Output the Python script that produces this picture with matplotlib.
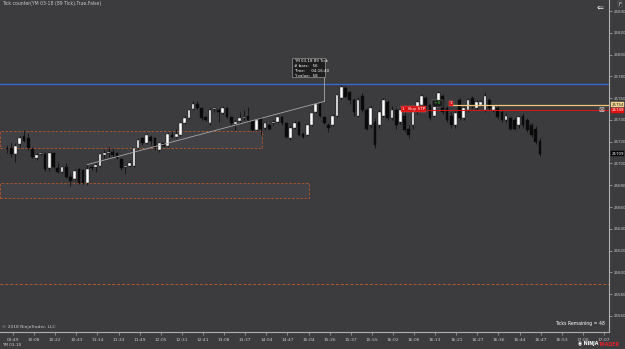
import matplotlib
matplotlib.use("Agg")
import matplotlib.pyplot as plt
from matplotlib.patches import Rectangle
import numpy as np

# ---------------- data ----------------
opens = [25714, 25714, 25709, 25718, 25725, 25723, 25713, 25705, 25709, 25709,
         25696, 25710, 25696, 25692, 25697, 25688, 25686, 25695, 25694, 25682,
         25697, 25697, 25698, 25708, 25710, 25711, 25710, 25704, 25697, 25698,
         25698, 25714, 25723, 25719, 25724, 25723, 25712, 25719, 25716, 25726,
         25724, 25726, 25737, 25742, 25750, 25755, 25751, 25743, 25737, 25750,
         25749, 25746, 25751, 25743, 25736, 25739, 25742, 25744, 25739, 25731,
         25742, 25733, 25735, 25737, 25738, 25743, 25737, 25723, 25733, 25738,
         25727, 25726, 25735, 25747, 25755, 25743, 25735, 25735, 25744, 25760,
         25769, 25766, 25758, 25744, 25762, 25749, 25735, 25738, 25735, 25744,
         25756, 25742, 25749, 25738, 25744, 25732, 25735, 25747, 25754, 25760,
         25754, 25744, 25754, 25762, 25751, 25744, 25735, 25758, 25742, 25749,
         25760, 25751, 25754, 25749, 25758, 25749, 25751, 25747, 25740, 25742,
         25740, 25735, 25744, 25740, 25735, 25732, 25721]
closes = [25713, 25709, 25716, 25723, 25721, 25714, 25706, 25708, 25710, 25695,
          25710, 25697, 25692, 25697, 25688, 25684, 25693, 25682, 25682, 25695,
          25696, 25699, 25709, 25710, 25711, 25708, 25705, 25696, 25697, 25700,
          25714, 25722, 25719, 25726, 25721, 25714, 25719, 25716, 25727, 25724,
          25727, 25737, 25742, 25749, 25755, 25751, 25742, 25740, 25749, 25750,
          25747, 25751, 25743, 25737, 25738, 25742, 25743, 25740, 25731, 25740,
          25732, 25737, 25732, 25738, 25743, 25737, 25724, 25733, 25737, 25726,
          25724, 25735, 25746, 25755, 25744, 25737, 25733, 25744, 25763, 25770,
          25761, 25758, 25747, 25758, 25749, 25732, 25751, 25717, 25747, 25758,
          25742, 25749, 25735, 25749, 25731, 25726, 25747, 25756, 25762, 25753,
          25742, 25756, 25765, 25747, 25740, 25735, 25746, 25742, 25751, 25758,
          25753, 25756, 25756, 25762, 25751, 25753, 25743, 25740, 25744, 25732,
          25732, 25743, 25735, 25731, 25726, 25720, 25709]
highs = [25717, 25720, 25719, 25725, 25731, 25728, 25715, 25710, 25711, 25711,
         25711, 25711, 25701, 25698, 25700, 25691, 25695, 25696, 25695, 25699,
         25698, 25700, 25710, 25712, 25715, 25714, 25711, 25705, 25698, 25703,
         25715, 25723, 25724, 25728, 25726, 25724, 25720, 25720, 25729, 25730,
         25732, 25738, 25744, 25750, 25757, 25757, 25752, 25744, 25751, 25752,
         25751, 25753, 25752, 25744, 25740, 25747, 25749, 25752, 25740, 25741,
         25743, 25738, 25736, 25740, 25744, 25744, 25738, 25735, 25739, 25739,
         25729, 25736, 25747, 25756, 25756, 25744, 25737, 25745, 25764, 25772,
         25771, 25767, 25760, 25761, 25765, 25751, 25754, 25742, 25749, 25760,
         25758, 25753, 25751, 25751, 25747, 25735, 25749, 25758, 25764, 25762,
         25755, 25758, 25767, 25764, 25753, 25747, 25748, 25760, 25753, 25760,
         25762, 25758, 25758, 25766, 25760, 25754, 25753, 25749, 25746, 25743,
         25742, 25744, 25746, 25742, 25737, 25734, 25723]
lows = [25710, 25706, 25701, 25715, 25720, 25712, 25705, 25703, 25708, 25693,
        25693, 25696, 25691, 25691, 25687, 25679, 25685, 25681, 25681, 25680,
        25694, 25692, 25697, 25705, 25706, 25706, 25704, 25694, 25690, 25697,
        25697, 25713, 25717, 25718, 25717, 25712, 25711, 25715, 25715, 25723,
        25723, 25725, 25736, 25741, 25749, 25750, 25740, 25739, 25735, 25747,
        25738, 25745, 25742, 25735, 25731, 25737, 25740, 25738, 25730, 25730,
        25726, 25731, 25731, 25735, 25737, 25735, 25723, 25722, 25732, 25725,
        25723, 25725, 25734, 25746, 25743, 25736, 25729, 25734, 25743, 25759,
        25760, 25755, 25744, 25743, 25747, 25731, 25733, 25714, 25733, 25743,
        25740, 25740, 25732, 25736, 25729, 25723, 25732, 25745, 25753, 25749,
        25740, 25743, 25753, 25745, 25738, 25733, 25733, 25740, 25740, 25747,
        25751, 25749, 25753, 25747, 25749, 25747, 25741, 25738, 25738, 25731,
        25731, 25733, 25733, 25729, 25724, 25718, 25707]

price_ticks = [25560, 25580, 25600, 25620, 25640, 25660, 25680, 25700, 25720,
               25740, 25760, 25780, 25800, 25820, 25840]
time_labels = ["09:49", "10:08", "10:22", "10:43", "11:14", "11:33", "11:49", "12:05",
               "12:31", "12:41", "13:08", "13:37", "14:04", "14:47", "15:04", "15:26",
               "15:37", "15:55", "16:02", "16:06", "16:13", "16:21", "16:27", "16:36",
               "16:44", "16:47", "16:53", "17:00", "17:07"]

blue_level = 25773
orange_level = 25589
stop_level = 25749
target_level = 25754
last_price = 25709
zone1 = (25714.5, 25730)   # low, high
zone2 = (25668, 25682)
ruler_start = (19, 25699)
ruler_end = (75, 25757)

# ---------------- style ----------------
bg = "#3c3c3f"
txt = "#c8c8c8"
W, H = 625, 349

fig = plt.figure(figsize=(W / 100, H / 100), dpi=100)
fig.patch.set_facecolor(bg)
ax = fig.add_axes([0, 17 / H, 609 / W, 332 / H])
ax.set_facecolor(bg)

bar_px = 4.23
x0 = -7 / bar_px
ax.set_xlim(x0, x0 + 609 / bar_px)
ax.set_ylim(25545.3, 25850.1)

for s in ["top", "left"]:
    ax.spines[s].set_visible(False)
for s in ["right", "bottom"]:
    ax.spines[s].set_color("#b0b0b0")
    ax.spines[s].set_linewidth(0.8)

ax.yaxis.tick_right()
ax.set_yticks(price_ticks)
ax.set_yticklabels([str(p) for p in price_ticks])
ax.tick_params(axis="y", length=2, width=0.5, colors="#b0b0b0", labelsize=2.9,
               labelcolor=txt, pad=1.2)
tick_pos = 1.42 + 4.99 * np.arange(len(time_labels))
ax.set_xticks(tick_pos)
ax.set_xticklabels(time_labels)
ax.tick_params(axis="x", length=2, width=0.5, colors="#b0b0b0", labelsize=3.2,
               labelcolor=txt, pad=2)

# zones
for (lo, hi), right in [(zone1, 60.3), (zone2, 71.4)]:
    ax.add_patch(Rectangle((x0, lo), right - x0, hi - lo, facecolor="#424246",
                           edgecolor="#b8582a", lw=0.6, ls=(0, (3, 2)), zorder=1))

ax.axhline(blue_level, color="#3a6ad6", lw=0.9, zorder=2)
ax.axhline(orange_level, color="#b8582a", lw=0.7, ls=(0, (3, 2)), zorder=2)

# candles
n = len(opens)
idx = np.arange(n)
o = np.array(opens, float)
c = np.array(closes, float)
h = np.array(highs, float)
l = np.array(lows, float)
ax.vlines(idx, l, h, color="#101010", lw=0.6, zorder=3)
up = c >= o
body_lo = np.minimum(o, c)
body_h = np.maximum(np.abs(c - o), 0.7)
ax.bar(idx[up], body_h[up], bottom=body_lo[up], width=0.64, color="white",
       edgecolor="#101010", lw=0.3, zorder=4)
ax.bar(idx[~up], body_h[~up], bottom=body_lo[~up], width=0.64, color="#0a0a0a",
       edgecolor="#0a0a0a", lw=0.3, zorder=4)

# ruler
ax.plot([ruler_start[0], ruler_end[0]], [ruler_start[1], ruler_end[1]],
        color="#a8a8a8", lw=0.6, zorder=5)
ax.plot([ruler_end[0], ruler_end[0]], [ruler_end[1], 25779.5], color="#a8a8a8",
        lw=0.6, zorder=5)
ax.add_patch(Rectangle((67.4, 25779.5), ruler_end[0] + 0.2 - 67.4, 17.3,
                       facecolor="#1e1e1e", edgecolor="#b0b0b0", lw=0.4, zorder=6))
ax.text(67.9, 25795.5, "YM 03-18 89 Tick\n# bars:   56\nTime:     04:16:40\nY value:  58",
        fontsize=2.9, color="white", va="top", ha="left", zorder=7, linespacing=1.25)

# orders
ax.plot([99.3, ax.get_xlim()[1]], [stop_level, stop_level], color="#e01010", lw=0.7, zorder=5)
ax.plot([105.4, ax.get_xlim()[1]], [target_level, target_level], color="#f0c878",
        lw=0.9, zorder=5)
ax.text(96.1, stop_level + 0.7, "1   Buy STP", fontsize=3, color="white", ha="center",
        va="center", zorder=7,
        bbox=dict(boxstyle="square,pad=0.25", facecolor="#d81010", edgecolor="#ff6060", lw=0.3))
ax.text(101.8, target_level + 1.2, " +0 ", fontsize=3, color="#40e040", ha="center",
        va="center", zorder=7,
        bbox=dict(boxstyle="square,pad=0.3", facecolor="#1a1a1a", edgecolor="#909090", lw=0.3))
ax.text(105.0, target_level + 1.2, "1", fontsize=3, color="white", ha="center",
        va="center", zorder=7,
        bbox=dict(boxstyle="square,pad=0.2", facecolor="#d81010", edgecolor="#ff6060", lw=0.3))

# right axis markers
def marker(price, label, fc, tc):
    ax.annotate(label, xy=(1.0, price), xycoords=("axes fraction", "data"),
                xytext=(1.6, 0), textcoords="offset points", fontsize=2.9, color=tc,
                va="center", ha="left", annotation_clip=False, zorder=8,
                bbox=dict(boxstyle="square,pad=0.12", facecolor=fc, edgecolor=fc, lw=0.3))

marker(target_level, str(target_level), "#f3d592", "#202020")
marker(stop_level, str(stop_level), "#e01010", "white")
marker(last_price, str(last_price), "#050505", "white")

def ftext(x, y, s, **kw):
    fig.text(x / W, 1 - y / H, s, **kw)

ftext(601, 110, "\u22a0", fontsize=5, color="#d0d0d0", ha="center", va="center")
ftext(2, 4, "Tick counter(YM 03-18 (89 Tick),True,False)", fontsize=3.3, color=txt,
      va="center")
ftext(600, 7, "\u21d0", fontsize=6, color="white", ha="center", va="center")
ftext(620, 4, "F", fontsize=3.5, color="white", ha="center", va="center",
      bbox=dict(boxstyle="square,pad=0.2", facecolor="#2a2a2a", edgecolor="#888888", lw=0.3))
ftext(2, 327, "\u00a9 2018 NinjaTrader, LLC", fontsize=3.2, color=txt, va="center")
ftext(605, 324, "Ticks Remaining = 48", fontsize=3.3, color="white", ha="right",
      va="center")
ftext(2, 345, "YM 03-18", fontsize=3, color=txt, va="center")
ftext(598, 344, "\u25c9 NINJA", fontsize=3.4, color="white", ha="right", va="center",
      fontweight="bold")
ftext(598, 344, "TRADER", fontsize=3.4, color="#e0202a", ha="left", va="center",
      fontweight="bold")

fig.savefig("out.png", dpi=100, facecolor=bg)
